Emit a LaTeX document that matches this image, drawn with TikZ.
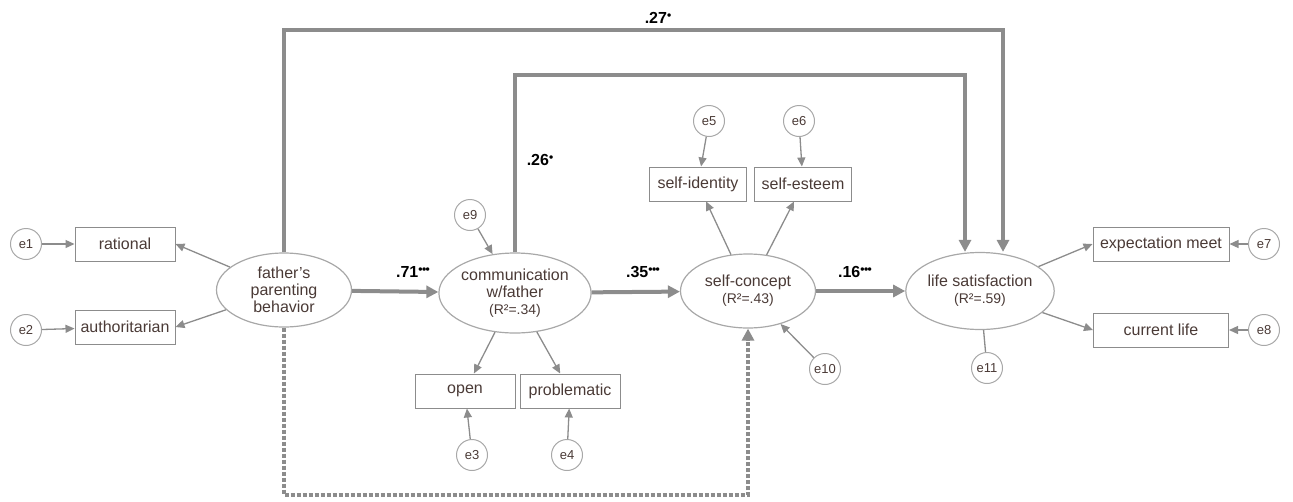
\documentclass[tikz,border=0pt]{standalone}
\usepackage{fontspec}
\setmainfont{Liberation Sans}
\usetikzlibrary{arrows.meta,shapes.geometric}
\definecolor{lgray}{HTML}{8C8C8C}
\definecolor{egray}{HTML}{A8A8A8}
\definecolor{txt}{HTML}{4A3A36}
\tikzset{
  obs/.style={draw=lgray,line width=1pt,minimum width=100pt,minimum height=34pt,inner sep=2pt,font=\fontsize{16}{18}\selectfont,text=txt},
  lat/.style={draw=egray,ellipse,line width=1.2pt,minimum width=135pt,minimum height=74pt,inner sep=0pt,align=center,font=\fontsize{16}{17}\selectfont,text=txt},
  err/.style={draw=egray,circle,line width=1pt,minimum size=31pt,inner sep=0pt,font=\fontsize{13}{14}\selectfont,text=txt},
  thin/.style={draw=lgray,line width=1.3pt,-{Triangle[length=9pt,width=8pt]}},
  thick/.style={draw=lgray,line width=4pt,-{Triangle[length=12pt,width=12pt]}},
  coef/.style={font=\bfseries\fontsize{16}{18}\selectfont,text=black}
}
\newcommand{\sst}{\raisebox{0.45ex}{\fontsize{12}{12}\selectfont\bfseries •\kern-0.5pt•\kern-0.5pt•}}
\newcommand{\sone}{\raisebox{0.45ex}{\fontsize{12}{12}\selectfont\bfseries •}}
\newcommand{\rsq}[1]{{\fontsize{14}{15}\selectfont(R²=#1)}}
\begin{document}
\begin{tikzpicture}[x=1pt,y=-1pt]
\useasboundingbox (0,0) rectangle (1293,501);
% latent
\node[lat] (fa) at (284,290) {father’s\\parenting\\behavior};
\node[lat,minimum height=80pt] (cm) at (515,293) {communication\\w/father\\\rsq{.34}};
\node[lat] (sc) at (748,291) {self-concept\\\rsq{.43}};
\node[lat,minimum width=133pt,minimum height=77pt] (ls) at (980,291) {life satisfaction\\\rsq{.59}};
% observed
\node[obs] (ra) at (125,244) {rational};
\node[obs] (au) at (125,327) {authoritarian};
\node[obs] (op) at (465,391) {open};
\node[obs] (pr) at (570,391) {problematic};
\node[obs,minimum width=97pt] (si) at (698,184) {self-identity};
\node[obs,minimum width=97pt] (se) at (803,184) {self-esteem};
\node[obs,minimum width=136pt] (em) at (1161,244) {expectation meet};
\node[obs,minimum width=135pt] (cl) at (1161,330) {current life};
% errors
\node[err] (e1) at (26,244) {e1};
\node[err] (e2) at (26,330) {e2};
\node[err] (e3) at (472,455) {e3};
\node[err] (e4) at (567,455) {e4};
\node[err] (e5) at (709,121) {e5};
\node[err] (e6) at (799,121) {e6};
\node[err] (e7) at (1264,244) {e7};
\node[err] (e8) at (1264,330) {e8};
\node[err] (e9) at (470,215) {e9};
\node[err] (e10) at (825,369) {e10};
\node[err] (e11) at (987,368) {e11};
% thin arrows
\draw[thin] (e1) -- (ra);
\draw[thin] (e2) -- (au);
\draw[thin] (fa) -- (ra.east);
\draw[thin] (fa) -- (au.east);
\draw[thin] (cm) -- (op);
\draw[thin] (cm) -- (pr);
\draw[thin] (e3) -- (op);
\draw[thin] (e4) -- (pr);
\draw[thin] (e9) -- (cm);
\draw[thin] (sc) -- (si);
\draw[thin] (sc) -- (se);
\draw[thin] (e5) -- (si);
\draw[thin] (e6) -- (se);
\draw[thin] (e10) -- (sc);
\draw[thin] (ls) -- (em.west);
\draw[thin] (ls) -- (cl.west);
\draw[thin] (e7) -- (em);
\draw[thin] (e8) -- (cl);
\draw[draw=lgray,line width=1.3pt] (e11) -- (ls);
% thick paths
\draw[thick] (fa) -- (cm);
\draw[thick] (cm) -- (sc);
\draw[thick] (sc) -- (ls);
\coordinate (a2) at (1003,30);
\draw[thick] (fa.north) |- (a2) -- (ls.north -| a2);
\coordinate (b2) at (965,75);
\draw[thick] (cm.north) |- (b2) -- (ls.north -| b2);
\coordinate (d2) at (748,495);
\draw[draw=lgray,line width=4pt,dotted,-{Triangle[length=12pt,width=12pt]}] (fa.south) |- (d2) -- (sc.south);
% coefficients
\node[coef] at (658,18) {.27\sone};
\node[coef] at (540,160) {.26\sone};
\node[coef] at (413,272) {.71\sst};
\node[coef] at (643,272) {.35\sst};
\node[coef] at (855,272) {.16\sst};
\end{tikzpicture}
\end{document}
